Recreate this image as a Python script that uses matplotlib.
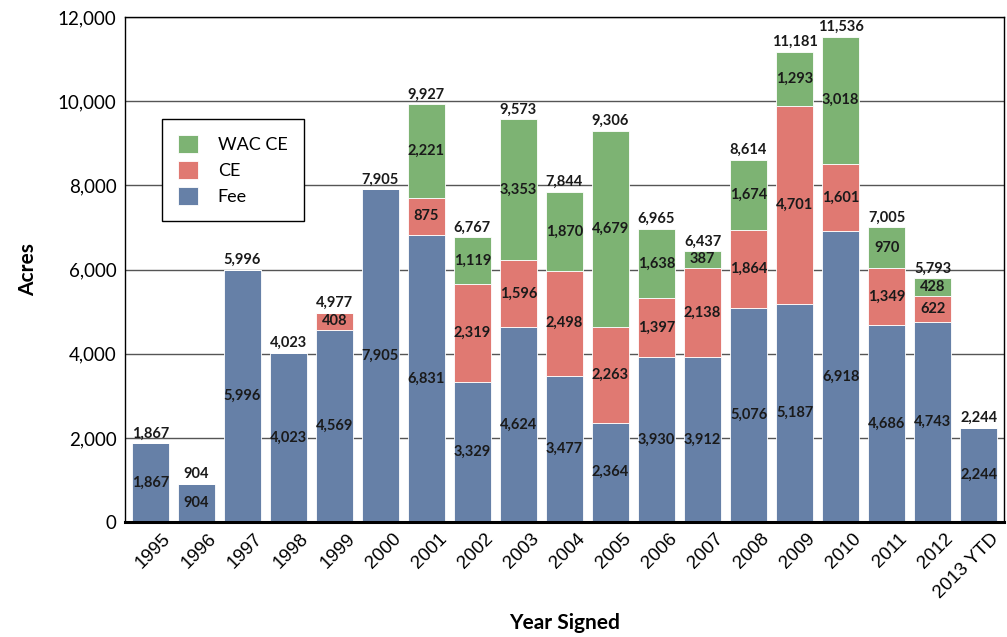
import matplotlib.pyplot as plt
import matplotlib.transforms as mtransforms
import numpy as np

years = ["1995", "1996", "1997", "1998", "1999", "2000", "2001", "2002", "2003",
         "2004", "2005", "2006", "2007", "2008", "2009", "2010", "2011", "2012",
         "2013 YTD"]
fee = [1867, 904, 5996, 4023, 4569, 7905, 6831, 3329, 4624, 3477, 2364, 3930,
       3912, 5076, 5187, 6918, 4686, 4743, 2244]
ce = [0, 0, 0, 0, 408, 0, 875, 2319, 1596, 2498, 2263, 1397, 2138, 1864, 4701,
      1601, 1349, 622, 0]
wac_ce = [0, 0, 0, 0, 0, 0, 2221, 1119, 3353, 1870, 4679, 1638, 387, 1674, 1293,
          3018, 970, 428, 0]
totals = [1867, 904, 5996, 4023, 4977, 7905, 9927, 6767, 9573, 7844, 9306, 6965,
          6437, 8614, 11181, 11536, 7005, 5793, 2244]

c_fee = "#6680a7"
c_ce = "#e07972"
c_wac = "#7db373"
lab_font = "Lato"

fig = plt.figure(figsize=(10.07, 6.37), dpi=100)
ax = fig.add_axes([0.124, 0.1805, 0.873, 0.7925])

x = np.arange(len(years))
fee_a = np.array(fee)
ce_a = np.array(ce)
wac_a = np.array(wac_ce)

ax.set_axisbelow(True)
ax.yaxis.grid(True, color="#555555", lw=1)
b1 = ax.bar(x, fee_a, 0.8, color=c_fee, edgecolor="white", lw=0.6, label="Fee")
b2 = ax.bar(x, ce_a, 0.8, bottom=fee_a, color=c_ce, edgecolor="white", lw=0.6,
            label="CE")
b3 = ax.bar(x, wac_a, 0.8, bottom=fee_a + ce_a, color=c_wac, edgecolor="white",
            lw=0.6, label="WAC CE")

txt = dict(ha="center", va="center", fontsize=10.5, fontweight="bold",
           family=lab_font, color="#1a1a1a")
for i in x:
    ax.text(i, fee_a[i] / 2, f"{fee_a[i]:,}", **txt)
    if ce_a[i] > 0:
        ax.text(i, fee_a[i] + ce_a[i] / 2, f"{ce_a[i]:,}", **txt)
    if wac_a[i] > 0:
        ax.text(i, fee_a[i] + ce_a[i] + wac_a[i] / 2, f"{wac_a[i]:,}", **txt)
    ax.annotate(f"{totals[i]:,}", (i, totals[i]), xytext=(0, 2),
                textcoords="offset points", ha="center", va="bottom",
                fontsize=10.5, fontweight="bold", family=lab_font,
                color="#1a1a1a")

ax.set_xlim(-0.55, len(years) - 0.45)
ax.set_ylim(0, 12000)
ax.set_yticks(range(0, 12001, 2000))
ax.set_yticklabels([f"{v:,}" for v in range(0, 12001, 2000)],
                   fontsize=13.5, family=lab_font)
ax.set_xticks(x)
ax.set_xticklabels(years, rotation=45, ha="right", rotation_mode="anchor",
                   fontsize=13.5, family="Liberation Sans")
ax.tick_params(axis="both", length=0, pad=6)
shift = mtransforms.ScaledTranslation(12 / 100, 0, fig.dpi_scale_trans)
for lbl in ax.get_xticklabels():
    lbl.set_transform(lbl.get_transform() + shift)

for s in ["left", "top", "right"]:
    ax.spines[s].set_color("black")
    ax.spines[s].set_linewidth(1)
ax.spines["bottom"].set_linewidth(2.2)
ax.spines["bottom"].set_color("black")

ax.set_ylabel("Acres", fontsize=15, fontweight="bold", family=lab_font,
              labelpad=14)
ax.set_xlabel("Year Signed", fontsize=15, fontweight="bold", family=lab_font,
              labelpad=8)

leg = ax.legend(handles=[b3, b2, b1], loc="upper left",
                bbox_to_anchor=(0.042, 0.798),
                prop={"family": lab_font, "size": 13},
                handlelength=1.1, handleheight=1.1, borderpad=0.9,
                labelspacing=0.45, handletextpad=1.1, fancybox=False,
                edgecolor="black", framealpha=1, borderaxespad=0)
leg.get_frame().set_linewidth(1)

fig.savefig("out.png", dpi=100)
